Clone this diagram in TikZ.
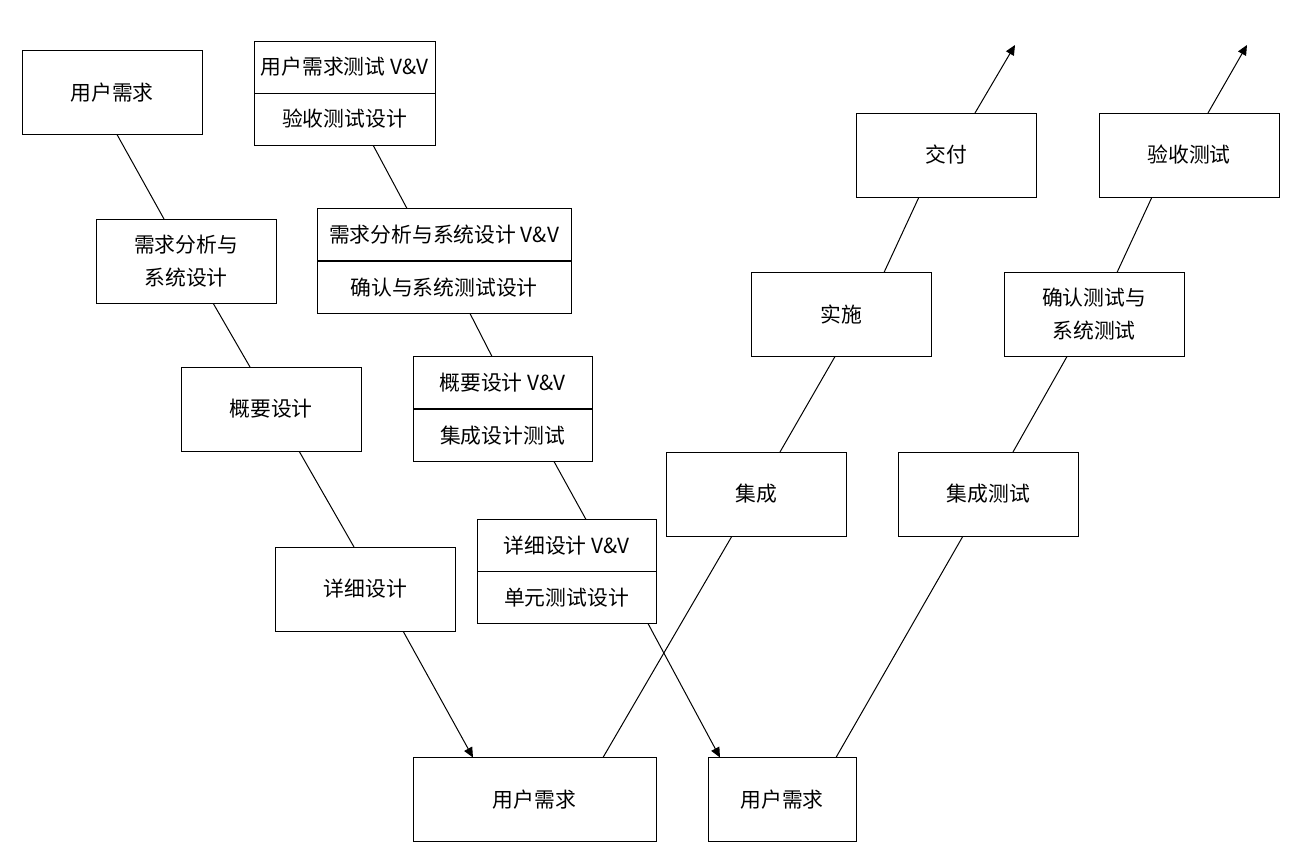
\documentclass[tikz,border=0pt]{standalone}
\usepackage{fontspec}
\setmainfont{Noto Sans CJK SC}
\usepackage{tikz}
\usetikzlibrary{calc,arrows.meta}
\pgfdeclarelayer{edgelayer}
\pgfdeclarelayer{nodelayer}
\pgfsetlayers{edgelayer,nodelayer,main}
\tikzstyle{edge}=[draw=black, line width=0.5pt]
\tikzstyle{arrow}=[edge, -{Triangle[length=5pt,width=4.5pt]}]
\tikzstyle{box}=[rectangle, fill=white, draw=black, line width=0.5pt, inner sep=0pt, outer sep=0pt, minimum width=90pt, minimum height=42pt, align=center, font=\fontsize{10.4}{16.5}\selectfont]
\tikzstyle{half}=[box, minimum height=26pt]

\begin{document}
\begin{tikzpicture}[x=0.5pt, y=-0.5pt]
				\useasboundingbox (0, 0) rectangle (1312, 857);
				\begin{pgfonlayer}{nodelayer}
					% left branch
					\node [style=box] (0) at (112, 92.5) {用户需求};
					\node [style=box] (2) at (186, 261) {需求分析与\\系统设计};
					\node [style=box] (4) at (271, 409) {概要设计};
					\node [style=box] (6) at (365.5, 589) {详细设计};
					% V&V column
					\node [style=half, minimum width=90.5pt] (1a) at (344.5, 67) {用户需求测试 V\&V};
					\node [style=half, minimum width=90.5pt] (1b) at (344.5, 119) {验收测试设计};
					\node [style=half, minimum width=127pt] (3a) at (444, 234.5) {需求分析与系统设计 V\&V};
					\node [style=half, minimum width=127pt] (3b) at (444, 287.5) {确认与系统测试设计};
					\node [style=half, minimum width=89.5pt] (5a) at (502.5, 382.5) {概要设计 V\&V};
					\node [style=half, minimum width=89.5pt] (5b) at (502.5, 435.5) {集成设计测试};
					\node [style=half, minimum width=89.5pt] (7a) at (566.5, 545.5) {详细设计 V\&V};
					\node [style=half, minimum width=89.5pt] (7b) at (566.5, 597.5) {单元测试设计};
					% bottom
					\node [style=box, minimum width=121.5pt] (8) at (534.5, 799.5) {用户需求};
					\node [style=box, minimum width=74pt] (9) at (782, 799.5) {用户需求};
					% right branches
					\node [style=box] (10) at (756, 494) {集成};
					\node [style=box] (11) at (988.5, 494) {集成测试};
					\node [style=box] (12) at (841, 314.5) {实施};
					\node [style=box] (13) at (1094, 314.5) {确认测试与\\系统测试};
					\node [style=box] (14) at (946, 155) {交付};
					\node [style=box] (15) at (1189, 155) {验收测试};
					\coordinate (16) at (1015, 45);
					\coordinate (17) at (1247, 45);
				\end{pgfonlayer}
				\begin{pgfonlayer}{edgelayer}
					\draw [style=edge] ($(0.south)+(5,0)$) to ($(2.north)+(-22,0)$);
					\draw [style=edge] ($(2.south)+(27,0)$) to ($(4.north)+(-21,0)$);
					\draw [style=edge] ($(4.south)+(28,0)$) to ($(6.north)+(-11.5,0)$);
					\draw [style=arrow] ($(6.south)+(37.5,0)$) to ($(8.north)+(-61.5,0)$);
					\draw [style=edge] ($(1b.south)+(28.5,0)$) to ($(3a.north)+(-37,0)$);
					\draw [style=edge] ($(3b.south)+(26,0)$) to ($(5a.north)+(-10.5,0)$);
					\draw [style=edge] ($(5b.south)+(51.5,0)$) to ($(7a.north)+(19.5,0)$);
					\draw [style=arrow] ($(7b.south)+(81.5,0)$) to ($(9.north)+(-62,0)$);
					\draw [style=edge] ($(8.north)+(68.5,0)$) to ($(10.south)+(-24,0)$);
					\draw [style=edge] ($(10.north)+(24,0)$) to ($(12.south)+(-6,0)$);
					\draw [style=edge] ($(12.north)+(43,0)$) to ($(14.south)+(-27,0)$);
					\draw [style=arrow] ($(14.north)+(29,0)$) to (16);
					\draw [style=edge] ($(9.north)+(54,0)$) to ($(11.south)+(-25.5,0)$);
					\draw [style=edge] ($(11.north)+(24.5,0)$) to ($(13.south)+(-27,0)$);
					\draw [style=edge] ($(13.north)+(23,0)$) to ($(15.south)+(-37,0)$);
					\draw [style=arrow] ($(15.north)+(19,0)$) to (17);
				\end{pgfonlayer}
			\end{tikzpicture}
\end{document}
